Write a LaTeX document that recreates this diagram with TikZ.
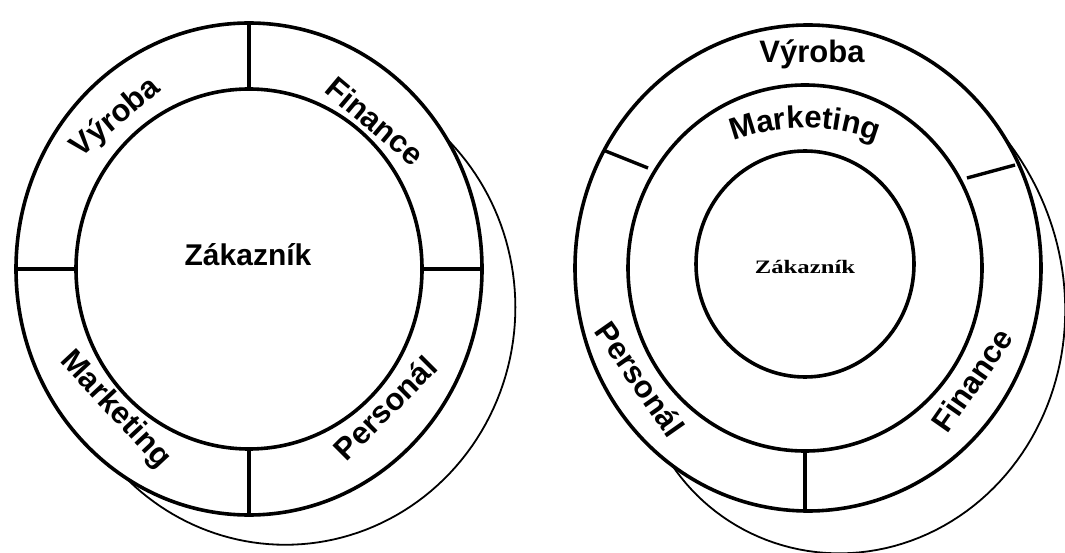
\documentclass[tikz,border=0pt]{standalone}
\usepackage{fontspec}
\setmainfont{Liberation Sans}
\newfontfamily\zakfont{Liberation Serif}
\usetikzlibrary{decorations.text}
\newcommand\ringfont{\bfseries\fontsize{31}{31}\selectfont}

\begin{document}
\begin{tikzpicture}[x=1pt,y=-1pt,ring/.style={line width=3.6pt},divider/.style={line width=3.4pt},crescent/.style={line width=1.8pt},ringtext/.style={font=\ringfont,inner sep=0pt},centertext/.style={font=\bfseries\fontsize{30}{30}\selectfont,inner sep=0pt}]
\useasboundingbox (0,0) rectangle (1065,553);

\coordinate (lc) at (249,269);
\draw[ring] (lc) ellipse[x radius=233,y radius=246];
\draw[ring] (lc) ellipse[x radius=173,y radius=180];
\foreach \a in {0,90,180,270}
  \draw[divider] ([shift={(\a:173 and 180)}]lc) -- ([shift={(\a:233 and 246)}]lc);
\draw[crescent] plot[domain=-32:122,samples=90,variable=\t]
  ({249+(233+sin((\t+32)/154*180)*(52-10*(\t+32)/154))*cos(\t)},
   {269+(246+sin((\t+32)/154*180)*(52-10*(\t+32)/154))*sin(\t)});

\node[centertext] (lzak) at (248,255) {Zákazník};
\node[ringtext,rotate=40] (lvyroba) at (116,118) {Výroba};
\node[ringtext,rotate=-40] (lfinance) at (375,121) {Finance};
\node[ringtext,rotate=-47] (lmarketing) at (115,410) {Marketing};
\node[ringtext,rotate=45] (lpersonal) at (385,408) {Personál};

\coordinate (ro) at (808,268);
\coordinate (rm) at (805,268);
\coordinate (ri) at (805,264);
\draw[ring] (ro) ellipse[x radius=233,y radius=243];
\draw[ring] (rm) ellipse[x radius=177,y radius=183];
\draw[ring] (ri) ellipse[x radius=109,y radius=113];
\draw[divider] (603,150) -- (648,168);
\draw[divider] (967,178) -- (1015,165);
\draw[divider] ([shift={(90:177 and 183)}]rm) -- ([shift={(90:233 and 243)}]rm);
\draw[crescent] plot[domain=-34:126,samples=90,variable=\t]
  ({808+(232+sin((\t+34)/160*180)*(25.6+46.4*(\t+34)/160))*cos(\t)},
   {268+(243+sin((\t+34)/160*180)*(25.6+46.4*(\t+34)/160))*sin(\t)});

\node[font=\zakfont\bfseries\fontsize{19}{19}\selectfont,xscale=1.3,inner sep=0pt] (rzak) at (805,267) {Zákazník};
\node[ringtext] (rvyroba) at (812,54) {Výroba};
\node[ringtext,rotate=55] (rfinance) at (972,380) {Finance};
\node[ringtext,rotate=-55] (rpersonal) at (640,379) {Personál};
\path[decorate,decoration={text along path,text align=center,text={|\ringfont|Marketing}}] ([shift={(-115:200)}]805,328) arc[start angle=-115,end angle=-65,radius=200];
\end{tikzpicture}
\end{document}
